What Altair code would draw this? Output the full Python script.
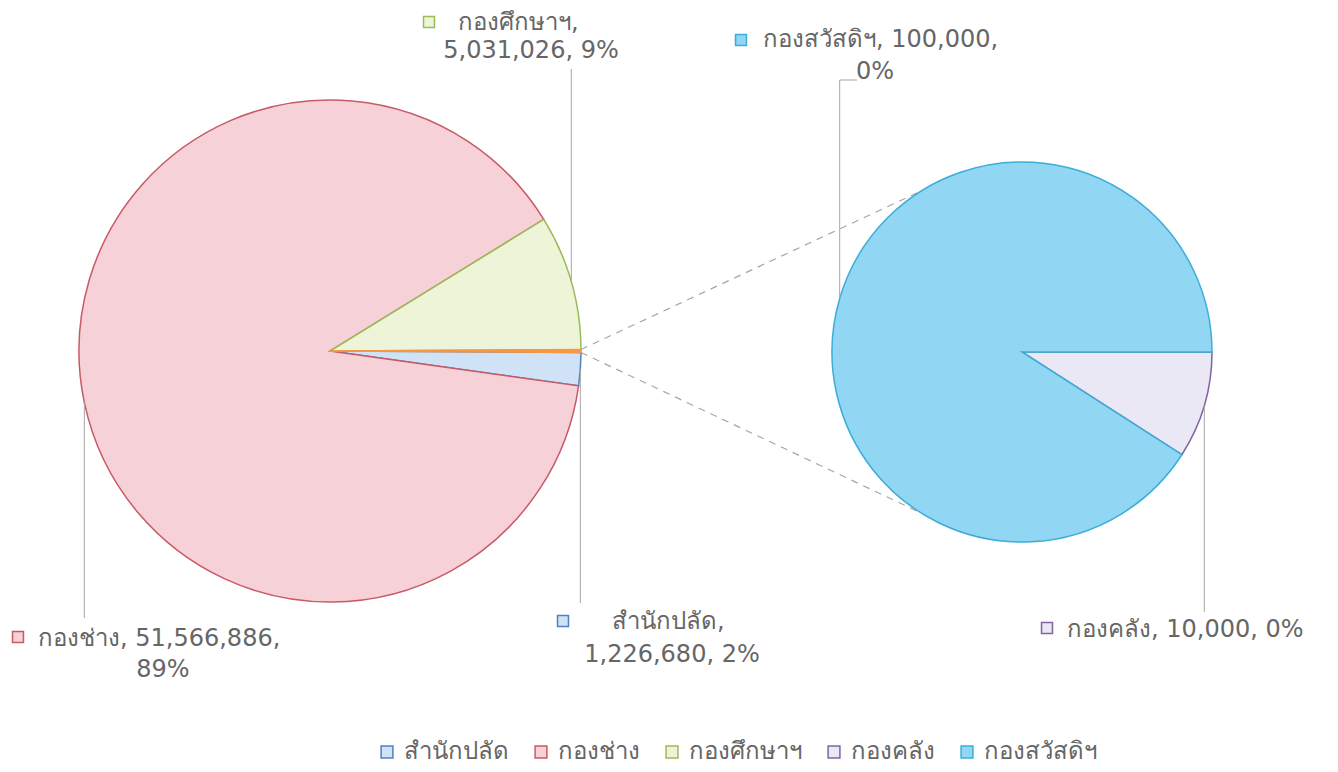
import math
import altair as alt
import pandas as pd

# ---------------- data ----------------
main_names = ["สำนักปลัด", "กองช่าง", "กองศึกษาฯ"]
main_values = [1226680, 51566886, 5031026]
sub_names = ["กองคลัง", "กองสวัสดิฯ"]
sub_values = [10000, 100000]
other_name = "อื่นๆ"
legend_order = ["สำนักปลัด", "กองช่าง", "กองศึกษาฯ", "กองคลัง", "กองสวัสดิฯ"]

# ---------------- style ----------------
fill_colors = {
    "สำนักปลัด": "#cfe2f6",
    "กองช่าง": "#f6d2d8",
    "กองศึกษาฯ": "#eef4d8",
    "กองคลัง": "#ebe8f6",
    "กองสวัสดิฯ": "#91d6f2",
    other_name: "#f79646",
}
stroke_colors = {
    "สำนักปลัด": "#4f81bd",
    "กองช่าง": "#c85a66",
    "กองศึกษาฯ": "#9bbb59",
    "กองคลัง": "#8064a2",
    "กองสวัสดิฯ": "#3aaed8",
    other_name: "#f79646",
}
FONT = "DejaVu Sans"
LABEL_SIZE = 24
LEGEND_SIZE = 24
TEXT_COLOR = "#666666"
LINE_COLOR = "#a6a6a6"

# ---------------- layout (chart pixel coordinates) ----------------
W, H = 1322, 756
LEFT = dict(cx=322, cy=343, r=251)
RIGHT = dict(cx=1014, cy=344, r=190)
CONNECT_ANGLE = 32  # degrees from 12 o'clock (counter-clockwise) for the connector ends on the right pie

# label placement: marker position, first line (left aligned) and second line (centered)
label_layout = {
    "กองช่าง": dict(mx=10, my=629, l1x=30, l1y=631, l2x=155, l2y=662, split="value", lead_to=610),
    "กองศึกษาฯ": dict(mx=421, my=14, l1x=450, l1y=15, l2x=523, l2y=43, split="name", lead_to=61),
    "สำนักปลัด": dict(mx=555, my=613, l1x=604, l1y=614, l2x=664, l2y=647, split="name", lead_to=595),
    "กองสวัสดิฯ": dict(mx=733, my=32, l1x=755, l1y=32, l2x=867, l2y=64, split="value", lead_to=72, elbow_x=849),
    "กองคลัง": dict(mx=1039, my=620, l1x=1059, l1y=622, split="none", lead_to=604),
}

# ---------------- derived tables ----------------
other_value = sum(sub_values)
left_names = main_names + [other_name]
left_values = main_values + [other_value]
grand_total = sum(left_values)

two_pi = 2 * math.pi
other_angle = other_value / grand_total * two_pi
left_start = math.pi / 2 + other_angle / 2
right_start = math.pi / 2

left_df = pd.DataFrame({"name": left_names, "value": left_values, "ord": range(len(left_names))})
right_df = pd.DataFrame({"name": sub_names, "value": sub_values, "ord": range(len(sub_names))})


def edge_point(p, theta):
    return p["cx"] + p["r"] * math.sin(theta), p["cy"] - p["r"] * math.cos(theta)


def mid_angles(names, values, start):
    tot = sum(values)
    out, acc = {}, start
    for n, v in zip(names, values):
        a = v / tot * two_pi
        out[n] = acc + a / 2
        acc += a
    return out


mids = {}
for n, a in mid_angles(left_names, left_values, left_start).items():
    mids[n] = edge_point(LEFT, a)
for n, a in mid_angles(sub_names, sub_values, right_start).items():
    mids[n] = edge_point(RIGHT, a)

all_values = dict(zip(main_names + sub_names, main_values + sub_values))

segs, line1_rows, line2_rows, marker_rows = [], [], [], []
for n, lay in label_layout.items():
    v = all_values[n]
    pct = round(v / grand_total * 100)
    vs = f"{v:,}"
    if lay["split"] == "name":
        t1, t2 = f"{n},", f"{vs}, {pct}%"
    elif lay["split"] == "value":
        t1, t2 = f"{n}, {vs},", f"{pct}%"
    else:
        t1, t2 = f"{n}, {vs}, {pct}%", None
    line1_rows.append({"name": n, "text": t1, "x": lay["l1x"], "y": lay["l1y"]})
    if t2:
        line2_rows.append({"name": n, "text": t2, "x": lay["l2x"], "y": lay["l2y"]})
    marker_rows.append({"name": n, "x": lay["mx"], "y": lay["my"]})
    ex, ey = mids[n]
    segs.append({"x": ex, "y": ey, "x2": ex, "y2": lay["lead_to"]})
    if "elbow_x" in lay:
        segs.append({"x": ex, "y": lay["lead_to"], "x2": lay["elbow_x"], "y2": lay["lead_to"]})

# connectors between the "other" slice and the second pie
ca = math.radians(CONNECT_ANGLE)
lx1, ly1 = edge_point(LEFT, math.pi / 2 - other_angle / 2)
lx2, ly2 = edge_point(LEFT, math.pi / 2 + other_angle / 2)
rx1, ry1 = edge_point(RIGHT, -ca)
rx2, ry2 = edge_point(RIGHT, math.pi + ca)
conn_df = pd.DataFrame([
    {"x": lx1, "y": ly1, "x2": rx1, "y2": ry1},
    {"x": lx2, "y": ly2, "x2": rx2, "y2": ry2},
])

# ---------------- encodings ----------------
domain = legend_order + [other_name]
legend = alt.Legend(
    title=None, orient="none", legendX=367, legendY=732, direction="horizontal",
    columns=5, values=legend_order, symbolType="square", symbolSize=140,
    symbolStrokeWidth=1.5, labelFont=FONT, labelFontSize=LEGEND_SIZE, labelColor=TEXT_COLOR,
    columnPadding=20, labelOffset=5, labelLimit=400,
)
fill_enc = alt.Fill("name:N", scale=alt.Scale(domain=domain, range=[fill_colors[d] for d in domain]), legend=legend)
stroke_enc = alt.Stroke("name:N", scale=alt.Scale(domain=domain, range=[stroke_colors[d] for d in domain]), legend=legend)

xs = alt.Scale(domain=[0, W], range=[0, W], nice=False, zero=False)
ys = alt.Scale(domain=[0, H], range=[0, H], nice=False, zero=False)
X = lambda f: alt.X(f"{f}:Q", scale=xs, axis=None)
Y = lambda f: alt.Y(f"{f}:Q", scale=ys, axis=None)

left_pie = alt.Chart(left_df).mark_arc(radius=LEFT["r"], strokeWidth=1.5).encode(
    theta=alt.Theta("value:Q", stack=True, scale=alt.Scale(range=[left_start, left_start + two_pi])),
    order=alt.Order("ord:Q"),
    fill=fill_enc, stroke=stroke_enc,
    x=alt.value(LEFT["cx"]), y=alt.value(LEFT["cy"]),
)
right_pie = alt.Chart(right_df).mark_arc(radius=RIGHT["r"], strokeWidth=1.5).encode(
    theta=alt.Theta("value:Q", stack=True, scale=alt.Scale(range=[right_start, right_start + two_pi])),
    order=alt.Order("ord:Q"),
    fill=fill_enc, stroke=stroke_enc,
    x=alt.value(RIGHT["cx"]), y=alt.value(RIGHT["cy"]),
)

connectors = alt.Chart(conn_df).mark_rule(color=LINE_COLOR, strokeWidth=1.2, strokeDash=[7, 6]).encode(
    x=X("x"), y=Y("y"), x2="x2:Q", y2="y2:Q"
)
leaders = alt.Chart(pd.DataFrame(segs)).mark_rule(color=LINE_COLOR, strokeWidth=1).encode(
    x=X("x"), y=Y("y"), x2="x2:Q", y2="y2:Q"
)
markers = alt.Chart(pd.DataFrame(marker_rows)).mark_square(size=120, strokeWidth=1.5, opacity=1).encode(
    x=X("x"), y=Y("y"), fill=fill_enc, stroke=stroke_enc
)
text1 = alt.Chart(pd.DataFrame(line1_rows)).mark_text(
    align="left", baseline="middle", font=FONT, fontSize=LABEL_SIZE, color=TEXT_COLOR
).encode(x=X("x"), y=Y("y"), text="text:N")
text2 = alt.Chart(pd.DataFrame(line2_rows)).mark_text(
    align="center", baseline="middle", font=FONT, fontSize=LABEL_SIZE, color=TEXT_COLOR
).encode(x=X("x"), y=Y("y"), text="text:N")

chart = (
    alt.layer(connectors, left_pie, right_pie, leaders, markers, text1, text2)
    .resolve_scale(theta="independent")
    .properties(width=W, height=H, padding=0, background="white")
    .configure_view(stroke=None)
)

chart.save("out.html", embed_options={"renderer": "svg", "actions": False})
